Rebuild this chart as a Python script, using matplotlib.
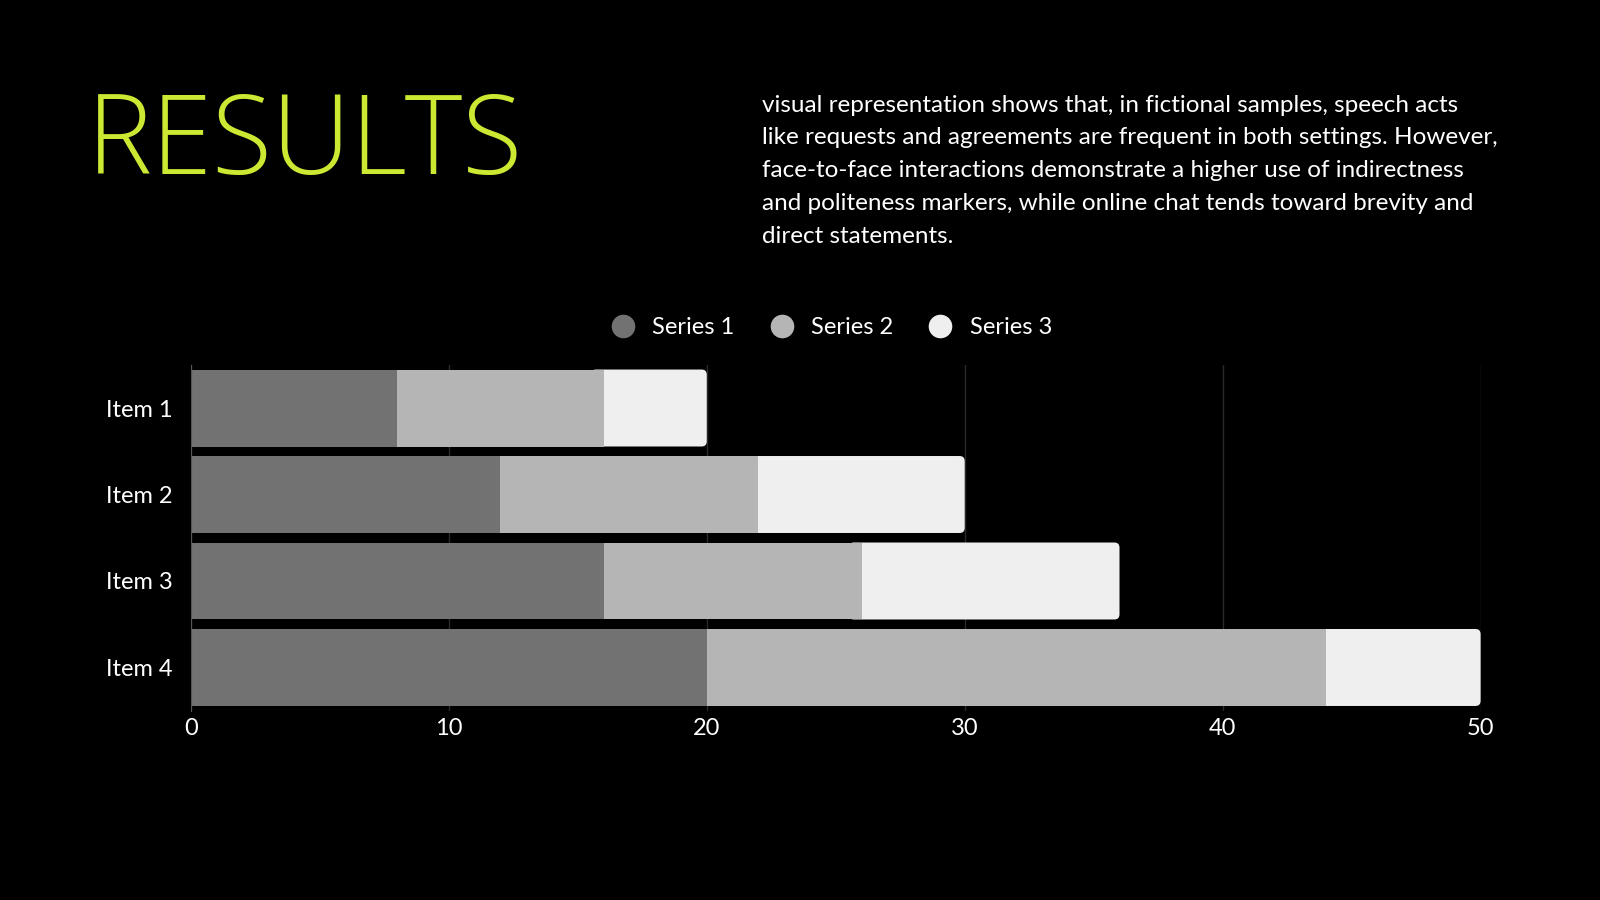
import numpy as np
import matplotlib.pyplot as plt
from matplotlib.patches import FancyBboxPatch
from matplotlib.lines import Line2D

# data
items = ['Item 1', 'Item 2', 'Item 3', 'Item 4']
series1 = [8, 12, 16, 20]
series2 = [8, 10, 10, 24]
series3 = [4, 8, 10, 6]
series_names = ['Series 1', 'Series 2', 'Series 3']
xticks = [0, 10, 20, 30, 40, 50]

title = 'RESULTS'
blurb = ('visual representation shows that, in fictional samples, speech acts\n'
         'like requests and agreements are frequent in both settings. However,\n'
         'face-to-face interactions demonstrate a higher use of indirectness\n'
         'and politeness markers, while online chat tends toward brevity and\n'
         'direct statements.')

colors = ['#737272', '#b5b5b5', '#efefef']
bg = '#000000'

plt.rcParams['font.family'] = ['Lato', 'DejaVu Sans']

fig = plt.figure(figsize=(16, 9), dpi=100, facecolor=bg)

fig.text(0.054, 0.807, title, color='#cce833', fontsize=79,
         family=['Open Sans', 'DejaVu Sans'], fontweight='light',
         ha='left', va='baseline')
fig.text(0.476, 0.895, blurb, color='white', fontsize=17.5, ha='left', va='top',
         linespacing=1.7)

ax = fig.add_axes([0.1193, 0.2103, 0.8061, 0.3844])
ax.set_facecolor(bg)

y = np.arange(len(items))
h = 0.89
s1 = np.array(series1)
s2 = np.array(series2)
s3 = np.array(series3)

# last segment with rounded right end, tucked under series 2
for yi, left, w in zip(y, s1 + s2, s3):
    box = FancyBboxPatch((left - 0.5, yi - h / 2), w + 0.5, h,
                         boxstyle='round,pad=0,rounding_size=0.2',
                         mutation_aspect=0.3, facecolor=colors[2],
                         edgecolor='none', zorder=2)
    ax.add_patch(box)
ax.barh(y, s1, height=h, color=colors[0], zorder=3)
ax.barh(y, s2, left=s1, height=h, color=colors[1], zorder=3)

ax.set_xlim(0, 50)
ax.set_ylim(3.5, -0.5)
ax.set_xticks(xticks)
ax.set_yticks(y)
ax.set_yticklabels(items)
ax.tick_params(axis='both', length=0, colors='white', labelsize=17)
ax.tick_params(axis='y', pad=13)
ax.tick_params(axis='x', pad=5)
ax.grid(axis='x', color='#2a2a2a', linewidth=1, zorder=0)
for s in ['top', 'right', 'bottom']:
    ax.spines[s].set_visible(False)
ax.spines['left'].set_color('#555555')
ax.spines['left'].set_zorder(4)

handles = [Line2D([], [], marker='o', linestyle='none', markersize=17,
                  markerfacecolor=c, markeredgecolor='none') for c in colors]
fig.legend(handles, series_names, loc='center', bbox_to_anchor=(0.516, 0.636),
           ncol=3, frameon=False, fontsize=17, labelcolor='white',
           handletextpad=0.25, columnspacing=1.0)

plt.savefig('out.png', facecolor=bg)
